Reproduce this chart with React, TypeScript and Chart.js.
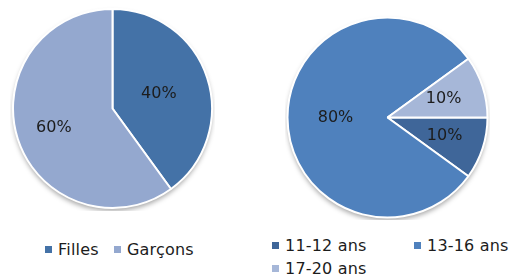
import React, { useEffect, useRef } from "react";
import { Chart, registerables } from "chart.js";

Chart.register(...registerables);

const genderLabels = ["Filles", "Garçons"];
const genderValues = [40, 60];
const genderColors = ["#4472a7", "#94a8cf"];

const ageLabels = ["11-12 ans", "13-16 ans", "17-20 ans"];
const ageValues = [10, 80, 10];
const ageColors = ["#3f6699", "#4f81bd", "#a6b7d8"];

const FONT = "'DejaVu Sans', sans-serif";

const piePlugin = {
  id: "pieDecor",
  beforeDatasetsDraw(chart: any) {
    const arc = chart.getDatasetMeta(0).data[0];
    if (!arc) return;
    const { x, y, outerRadius } = arc;
    const ctx = chart.ctx;
    ctx.save();
    ctx.shadowColor = "rgba(0,0,0,0.35)";
    ctx.shadowBlur = 5;
    ctx.shadowOffsetY = 3;
    ctx.beginPath();
    ctx.arc(x, y, outerRadius, 0, Math.PI * 2);
    ctx.fillStyle = "#ffffff";
    ctx.fill();
    ctx.restore();
  },
  afterDatasetsDraw(chart: any, _args: any, opts: any) {
    const meta = chart.getDatasetMeta(0);
    const data = chart.data.datasets[0].data as number[];
    const total = data.reduce((a, b) => a + b, 0);
    const ctx = chart.ctx;
    ctx.save();
    ctx.font = `16px ${FONT}`;
    ctx.fillStyle = "#1c1c1c";
    ctx.textAlign = "center";
    ctx.textBaseline = "middle";
    meta.data.forEach((arc: any, i: number) => {
      const mid = (arc.startAngle + arc.endAngle) / 2;
      const f = (opts.factors && opts.factors[i]) || 0.55;
      const r = arc.outerRadius * f;
      const lx = arc.x + Math.cos(mid) * r;
      const ly = arc.y + Math.sin(mid) * r;
      ctx.fillText(Math.round((data[i] / total) * 100) + "%", lx, ly);
    });
    ctx.restore();
  },
};

function PieCanvas(props: {
  labels: string[];
  values: number[];
  colors: string[];
  rotation: number;
  factors: number[];
  padding: number;
  style: React.CSSProperties;
}) {
  const ref = useRef<HTMLCanvasElement | null>(null);
  useEffect(() => {
    if (!ref.current) return;
    const chart = new Chart(ref.current, {
      type: "pie",
      data: {
        labels: props.labels,
        datasets: [
          {
            data: props.values,
            backgroundColor: props.colors,
            borderColor: "#ffffff",
            borderWidth: 2,
          },
        ],
      },
      options: {
        animation: false,
        responsive: false,
        rotation: props.rotation,
        layout: { padding: props.padding },
        plugins: {
          legend: { display: false },
          tooltip: { enabled: false },
          pieDecor: { factors: props.factors },
        } as any,
      },
      plugins: [piePlugin],
    });
    return () => chart.destroy();
  }, []);
  return (
    <canvas
      ref={ref}
      width={props.style.width as number}
      height={props.style.height as number}
      style={{ position: "absolute", ...props.style }}
    />
  );
}

function LegendItem(props: { label: string; color: string; left: number; top: number }) {
  return (
    <div
      style={{
        position: "absolute",
        left: props.left,
        top: props.top,
        height: 20,
        display: "flex",
        alignItems: "center",
        fontFamily: FONT,
        fontSize: 16,
        color: "#1c1c1c",
        whiteSpace: "nowrap",
        letterSpacing: "0.2px",
      }}
    >
      <span
        style={{
          display: "inline-block",
          width: 7,
          height: 7,
          background: props.color,
          marginRight: 6,
        }}
      />
      <span>{props.label}</span>
    </div>
  );
}

export default function App() {
  useEffect(() => {
    document.body.style.margin = "0";
  }, []);
  return (
    <div
      style={{
        position: "fixed",
        left: 0,
        top: 0,
        width: 519,
        height: 280,
        background: "#ffffff",
        overflow: "hidden",
      }}
    >
      <PieCanvas
        labels={genderLabels}
        values={genderValues}
        colors={genderColors}
        rotation={0}
        factors={[0.49, 0.62]}
        padding={2}
        style={{ left: 10, top: 6, width: 205, height: 205 }}
      />
      <PieCanvas
        labels={ageLabels}
        values={ageValues}
        colors={ageColors}
        rotation={90}
        factors={[0.6, 0.52, 0.59]}
        padding={1.5}
        style={{ left: 285, top: 15, width: 205, height: 205 }}
      />
      <LegendItem label={genderLabels[0]} color={genderColors[0]} left={45} top={239} />
      <LegendItem label={genderLabels[1]} color={genderColors[1]} left={114} top={239} />
      <LegendItem label={ageLabels[0]} color={ageColors[0]} left={272} top={235} />
      <LegendItem label={ageLabels[1]} color={ageColors[1]} left={414} top={235} />
      <LegendItem label={ageLabels[2]} color={ageColors[2]} left={272} top={258} />
    </div>
  );
}
